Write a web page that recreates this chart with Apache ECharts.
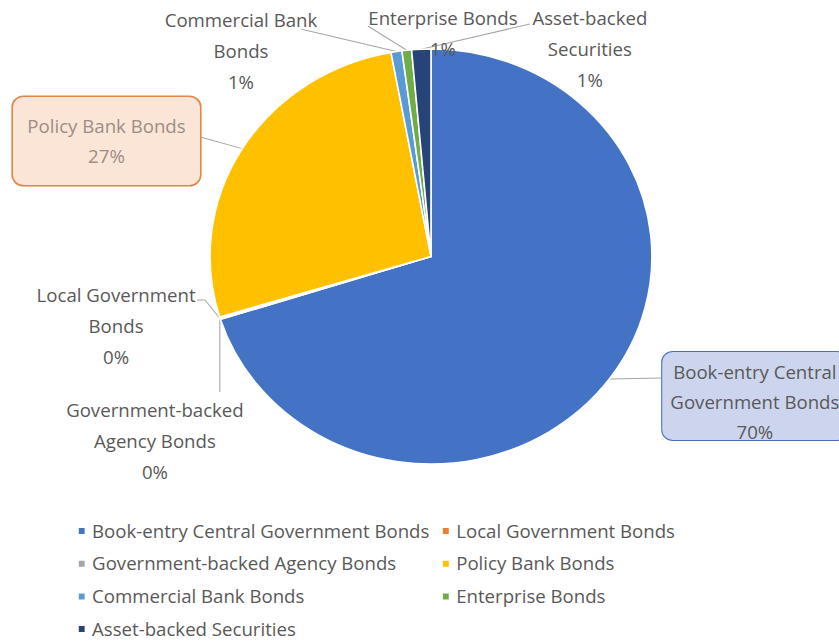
<!DOCTYPE html>
<html>
<head>
<meta charset="utf-8">
<script src="https://cdn.jsdelivr.net/npm/echarts@6/dist/echarts.min.js"></script>
<style>
  html, body { margin: 0; padding: 0; background: #ffffff; overflow: hidden; }
  /* the chart is laid out narrower and widened so the pie reads as a slightly wide ellipse */
  #chart { width: 788px; height: 641px; transform: scaleX(1.0647); transform-origin: 0 0; }
</style>
</head>
<body>
<div id="chart"></div>
<script>
// Bond holdings by type (share of total, %)
const categories = [
  'Book-entry Central Government Bonds',
  'Local Government Bonds',
  'Government-backed Agency Bonds',
  'Policy Bank Bonds',
  'Commercial Bank Bonds',
  'Enterprise Bonds',
  'Asset-backed Securities'
];
const shares = [70.1, 0.1, 0.1, 26.8, 0.8, 0.7, 1.4];
const labelNames = [
  'Book-entry Central\nGovernment Bonds',
  'Local Government\nBonds',
  'Government-backed\nAgency Bonds',
  'Policy Bank Bonds',
  'Commercial Bank\nBonds',
  'Enterprise Bonds',
  'Asset-backed\nSecurities'
];
const sliceColors = ['#4472C4', '#ED7D31', '#A5A5A5', '#FFC000', '#5B9BD5', '#70AD47', '#264478'];

// legend columns
const legendLeft = categories.filter((_, i) => i % 2 === 0);
const legendRight = categories.filter((_, i) => i % 2 === 1);

// label anchors (centre / top of each label block) and leader-line bend points
const labelPlacement = [
  { x: 709, y: 352, bends: [[621.6, 378]] },
  { x: 109, y: 279.5, bends: [[192.5, 300], [185, 300]] },
  { x: 145.5, y: 394.5, bends: [[null, 392]] },
  { x: 100, y: 97, bends: [[188, 137]] },
  { x: 226.3, y: 4.5, bends: [[283.3, 29.3]] },
  { x: 416, y: 2.5, bends: [[345.5, 26]] },
  { x: 554, y: 2.5, bends: [[497.7, 24]] }
];

const FONT = '"Open Sans", "Noto Sans", sans-serif';
const FONT_SIZE = 17.5;

// boxed callouts for the two largest holdings
const boxedLabels = {
  0: {
    backgroundColor: '#CDD5EE', borderColor: '#4A6EBD', borderWidth: 1, borderRadius: 10,
    padding: [5, 8], width: 158, height: 78, lineHeight: 30, color: '#595959'
  },
  3: {
    backgroundColor: '#FBE5D6', borderColor: '#E0864A', borderWidth: 1.5, borderRadius: 10,
    padding: [14, 10], width: 155.6, height: 60, lineHeight: 30, color: '#9C8D87'
  }
};

const pieData = categories.map((name, i) => {
  const item = { name, value: shares[i], itemStyle: { color: sliceColors[i] } };
  if (boxedLabels[i]) item.label = boxedLabels[i];
  return item;
});

const legendBase = {
  orient: 'vertical',
  top: 521,
  padding: 0,
  icon: 'rect',
  itemWidth: 7.5,
  itemHeight: 8,
  itemGap: 12.7,
  selectedMode: false,
  textStyle: { fontFamily: FONT, fontSize: FONT_SIZE, color: '#595959', lineHeight: 20, padding: [0, 0, 0, 1] }
};

const chart = echarts.init(document.getElementById('chart'), null, { renderer: 'svg' });
chart.setOption({
  backgroundColor: '#ffffff',
  animation: false,
  legend: [
    Object.assign({}, legendBase, { data: legendLeft, left: 72 }),
    Object.assign({}, legendBase, { data: legendRight, left: 414 })
  ],
  series: [{
    type: 'pie',
    center: [404.8, 256.5],
    radius: 207.5,
    startAngle: 90,
    clockwise: true,
    avoidLabelOverlap: false,
    itemStyle: { borderColor: '#ffffff', borderWidth: 1.5 },
    label: {
      show: true,
      position: 'outer',
      fontFamily: FONT,
      fontSize: FONT_SIZE,
      color: '#595959',
      lineHeight: 31,
      align: 'center',
      overflow: 'none',
      formatter: p => labelNames[p.dataIndex] + '\n' + Math.round(p.percent) + '%'
    },
    labelLine: {
      show: true,
      length: 10,
      length2: 10,
      lineStyle: { color: '#A6A6A6', width: 1 }
    },
    labelLayout: params => {
      const place = labelPlacement[params.dataIndex];
      const start = params.labelLinePoints ? params.labelLinePoints[0] : null;
      const out = { x: place.x, y: place.y, align: 'center', verticalAlign: 'top' };
      if (start) {
        out.labelLinePoints = [start].concat(
          place.bends.map(b => [b[0] == null ? start[0] : b[0], b[1]])
        );
      }
      return out;
    },
    emphasis: { disabled: true },
    data: pieData
  }]
});
</script>
</body>
</html>
